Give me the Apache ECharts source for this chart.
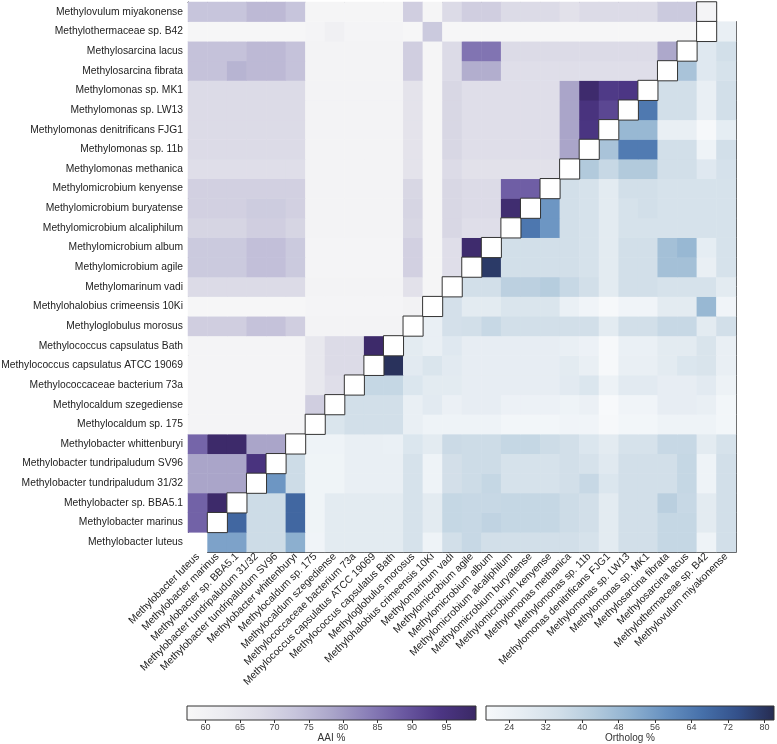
<!DOCTYPE html>
<html><head><meta charset="utf-8">
<script src="https://cdn.jsdelivr.net/npm/echarts@6/dist/echarts.min.js"></script>
<style>html,body{margin:0;padding:0;background:#fff}#c{width:777px;height:744px}</style>
</head><body><div id="c"></div>
<script>
// species in column order (left → right); y axis uses the same order bottom → top
const species = [
  'Methylobacter luteus','Methylobacter marinus','Methylobacter sp. BBA5.1',
  'Methylobacter tundripaludum 31/32','Methylobacter tundripaludum SV96','Methylobacter whittenburyi',
  'Methylocaldum sp. 175','Methylocaldum szegediense','Methylococcaceae bacterium 73a',
  'Methylococcus capsulatus ATCC 19069','Methylococcus capsulatus Bath','Methyloglobulus morosus',
  'Methylohalobius crimeensis 10Ki','Methylomarinum vadi','Methylomicrobium agile',
  'Methylomicrobium album','Methylomicrobium alcaliphilum','Methylomicrobium buryatense',
  'Methylomicrobium kenyense','Methylomonas methanica','Methylomonas sp. 11b',
  'Methylomonas denitrificans FJG1','Methylomonas sp. LW13','Methylomonas sp. MK1',
  'Methylosarcina fibrata','Methylosarcina lacus','Methylothermaceae sp. B42','Methylovulum miyakonense'
];

// AAI %: aaiRows[k] = values of species k+1 against species 0..k
const aaiRows = [
  [87.5],
  [87.5, 98.5],
  [78.5, 78.5, 78.5],
  [78.5, 78.5, 78.5, 95],
  [87, 98.5, 98.5, 78.5, 78.5],
  [59, 59, 59, 59, 59, 59],
  [59, 59, 59, 59, 59, 59, 71],
  [59, 59, 59, 59, 59, 59, 64, 67],
  [59, 59, 59, 59, 59, 59, 64, 68, 68],
  [59, 59, 59, 59, 59, 59, 64, 68, 68, 98.5],
  [71, 71, 71, 73.5, 73.5, 71, 59.5, 59.5, 59.5, 59.5, 59.5],
  [58, 58, 58, 58, 58, 58, 59, 59, 59, 59, 59, 60],
  [68, 68, 68, 68, 68, 68, 59.5, 59.5, 59.5, 59.5, 59.5, 66, 58.5],
  [72, 72, 72, 74, 74, 72, 59, 59, 59, 59, 59, 70.5, 58.5, 67],
  [72, 72, 72, 74, 74, 72, 59, 59, 59, 59, 59, 70.5, 58.5, 67, 98],
  [69.5, 69.5, 69.5, 71, 71, 69.5, 59.5, 59.5, 59.5, 59.5, 59.5, 69, 58.5, 69, 67, 67],
  [70.5, 70.5, 70.5, 71.5, 71.5, 70.5, 59.5, 59.5, 59.5, 59.5, 59.5, 69.5, 58.5, 69, 68, 68, 97.5],
  [70.5, 70.5, 70.5, 70.5, 70.5, 70.5, 59.5, 59.5, 59.5, 59.5, 59.5, 69, 58.5, 69, 68, 68, 88, 88],
  [67, 67, 67, 67, 67, 67, 59.5, 59.5, 59.5, 59.5, 59.5, 65.5, 58.5, 68, 66, 66, 66, 66, 66],
  [68, 68, 68, 68, 68, 68, 59.5, 59.5, 59.5, 59.5, 59.5, 65.5, 58.5, 69, 67, 67, 67, 67, 67, 78.5],
  [68, 68, 68, 68, 68, 68, 59.5, 59.5, 59.5, 59.5, 59.5, 65.5, 58.5, 69, 67, 67, 67, 67, 67, 78.5, 94.5],
  [68, 68, 68, 68, 68, 68, 59.5, 59.5, 59.5, 59.5, 59.5, 65.5, 58.5, 69, 67, 67, 67, 67, 67, 78.5, 95, 91.5],
  [68, 68, 68, 68, 68, 68, 59.5, 59.5, 59.5, 59.5, 59.5, 65.5, 58.5, 69, 67, 67, 67, 67, 67, 78.5, 98, 93.5, 94],
  [73.5, 73.5, 76, 75, 75, 73.5, 59.5, 59.5, 59.5, 59.5, 59.5, 71, 58.5, 68, 77, 77, 67, 67, 67, 67, 67, 67, 67, 67],
  [73.5, 73.5, 73.5, 75, 75, 73.5, 59.5, 59.5, 59.5, 59.5, 59.5, 71, 58.5, 68, 85, 85, 68, 68, 68, 68, 68, 68, 68, 68, 78],
  [58, 58, 58, 58, 58, 58, 59, 61, 59, 59, 59, 58, 72, 58, 58, 58, 58, 58, 58, 58, 58, 58, 58, 58, 58, 58],
  [73, 73, 73, 75, 75, 73, 58.5, 58.5, 58.5, 58.5, 58.5, 71, 58.5, 68, 71, 71, 68, 68, 68, 66, 68, 68, 68, 68, 72, 72, 59]
];

// Ortholog %: orthologRows[s] = values of species s against species s+1..27
const orthologRows = [
  [54, 54, 36, 36, 51, 22, 28, 28, 28, 28, 33, 23, 34.7, 37.5, 34.7, 34.7, 34.7, 34.7, 34.7, 33, 28, 34.7, 34.7, 38, 38, 23, 34.7],
  [68.5, 36, 36, 68.5, 22.5, 28, 28, 28, 28, 33, 28, 38, 37.5, 39.5, 38, 38, 38, 36, 34.7, 28, 34.7, 34.7, 38, 38, 28, 34.7],
  [36, 36, 68.5, 22.5, 28, 28, 28, 28, 33, 28, 38, 37.5, 37.5, 38, 38, 38, 36, 34.7, 28, 34.7, 34.7, 41, 37.5, 28, 34.7],
  [57, 36, 22.5, 22.5, 25.5, 25.5, 25.5, 33, 23, 34.5, 36, 38, 33, 33, 33, 34.7, 37.5, 31, 34.7, 34.7, 34.7, 38, 23, 34.7],
  [36, 22.5, 22.5, 25.5, 25.5, 25.5, 33, 23, 34.5, 36, 36, 33, 33, 33, 34.7, 33, 29, 34.7, 34.7, 34.7, 38, 23, 34.7],
  [23, 23, 25.5, 25.5, 25, 31, 28, 36.5, 36, 36, 38, 38, 36, 34.7, 31, 28, 33, 33, 37.5, 37.5, 28, 33],
  [31.5, 34.7, 34.7, 34.7, 25.5, 23, 23, 23, 23, 21, 21, 21, 22, 22, 19.5, 21, 21, 23, 23, 23, 21],
  [34.7, 34.7, 34.7, 25.5, 28.5, 24.5, 26.5, 26.5, 24, 24, 24, 23, 24.5, 19, 22, 22, 26.5, 26.5, 25.5, 21],
  [38, 38, 31, 28, 28, 26.5, 26.5, 26.5, 26.5, 26.5, 28.5, 31, 23.5, 28.5, 28.5, 26.5, 26.5, 28.5, 23.5],
  [80.5, 28.5, 31.5, 28.5, 26.5, 26.5, 26.5, 26.5, 26.5, 28, 25.5, 19.5, 25.5, 25.5, 28, 31, 32, 25.5],
  [28, 25.5, 29.5, 26.5, 26.5, 26.5, 26.5, 26.5, 25.5, 24, 19.5, 25, 25, 28, 28, 32, 25.5],
  [25.5, 34, 34.7, 37.5, 34.7, 34.7, 34.7, 34.7, 34.7, 28, 34.7, 34.7, 37.5, 37.5, 28, 34.7],
  [34, 28, 28, 31.5, 31.5, 31.5, 25, 22, 19.5, 22, 22, 28, 28, 48.5, 22],
  [34.7, 34.7, 40.5, 40.5, 42, 37.5, 34.7, 28, 34.7, 34.7, 33, 33, 33, 28],
  [79, 34.7, 34.7, 34.7, 34.7, 33, 28, 34.7, 34.7, 46, 46, 25.5, 33],
  [34.7, 34.7, 34.7, 34.7, 33, 28, 34.7, 34.7, 46, 48.5, 27, 33],
  [64.5, 57, 34.7, 33, 28, 33, 33, 33, 33, 33, 33],
  [57, 34.7, 33, 28, 33, 34.7, 33, 33, 33, 33],
  [34.7, 33, 28, 34.7, 34.7, 33, 33, 33, 33],
  [43, 37.5, 43, 43, 34.7, 34.7, 29.5, 33.5],
  [45, 63.5, 63.5, 34.7, 34.7, 23, 34.7],
  [48.5, 48.5, 25.5, 25.5, 19.5, 27],
  [64, 34.7, 34.7, 25.5, 34.7],
  [34.7, 34.7, 25.5, 34.7],
  [45, 29.5, 33],
  [29.5, 34.7],
  [25.5]
];

const aaiRange = [57.3, 99.3];
const orthologRange = [18.9, 82.1];
const aaiTicks = [60, 65, 70, 75, 80, 85, 90, 95];
const orthologTicks = [24, 32, 40, 48, 56, 64, 72, 80];
const aaiColors = ['#f8f8f8','#ececf1','#dddce7','#c7c5dc','#aba6ca','#8a7fb8','#6a58a1','#4c3684','#3a2865'];
const orthologColors = ['#f7f9fb','#e6edf3','#d2dfe9','#b4cbdd','#8fb1d0','#6690c0','#4670aa','#33508a','#262b50'];

const N = species.length;
const aaiData = [], orthologData = [], diagData = [];
aaiRows.forEach((row, k) => {
  const i = k + 1;
  row.forEach((v, j) => {
    const item = { value: [j, i, v] };
    if (i === N - 1 && j === N - 2) item.itemStyle = { borderColor: '#333', borderWidth: 1 };
    aaiData.push(item);
  });
});
orthologRows.forEach((row, s) => {
  row.forEach((v, k) => orthologData.push([s + 1 + k, s, v]));
});
for (let s = 1; s < N - 1; s++) diagData.push([s, s, 0]);

const FONT = 'Liberation Sans';
const LABEL_SIZE = 10.3;
const G = { left: 188, top: 2, width: 548, height: 550, outerBoundsMode: 'none' };
const cw = G.width / N, ch = G.height / N;
function grad(colors) {
  return { type: 'linear', x: 0, y: 0, x2: 1, y2: 0,
    colorStops: colors.map((c, k) => ({ offset: k / (colors.length - 1), color: c })) };
}
const hidden = { axisLine: { show: false }, axisTick: { show: false }, axisLabel: { show: false }, splitLine: { show: false } };
function frameAxis(gi, pos) {
  return { type: 'value', gridIndex: gi, position: pos, min: 0, max: 1,
    axisLine: { show: true, onZero: false, lineStyle: { color: '#444', width: 1 } },
    axisTick: { show: false }, axisLabel: { show: false }, splitLine: { show: false } };
}
function barAxis(gi, range, ticks, name) {
  return { type: 'value', gridIndex: gi, min: range[0], max: range[1],
    axisLine: { show: false }, splitLine: { show: false },
    axisTick: { show: true, customValues: ticks, length: 3, lineStyle: { color: '#333' } },
    axisLabel: { customValues: ticks, fontSize: 9, color: '#444', margin: 3, fontFamily: FONT },
    name: name, nameLocation: 'middle', nameGap: 13,
    nameTextStyle: { fontSize: 10, color: '#333', fontFamily: FONT } };
}

const chart = echarts.init(document.getElementById('c'), null, { renderer: 'canvas' });
chart.setOption({
  animation: false,
  backgroundColor: '#fff',
  grid: [
    G,
    { left: G.left, top: G.top, width: G.width - cw, height: G.height - ch, outerBoundsMode: 'none' },
    { left: G.left + cw, top: G.top + ch, width: G.width - cw, height: G.height - ch, outerBoundsMode: 'none' },
    { left: 187, top: 706, width: 289, height: 14, show: true, backgroundColor: grad(aaiColors), borderColor: '#333', borderWidth: 1, outerBoundsMode: 'none' },
    { left: 486, top: 706, width: 288, height: 14, show: true, backgroundColor: grad(orthologColors), borderColor: '#333', borderWidth: 1, outerBoundsMode: 'none' }
  ],
  xAxis: [
    { type: 'category', gridIndex: 0, data: species, position: 'bottom',
      axisLine: { show: false }, axisTick: { show: false }, splitLine: { show: false },
      axisLabel: { interval: 0, rotate: 45, fontSize: LABEL_SIZE, color: '#222', margin: 3, fontFamily: FONT } },
    frameAxis(1, 'top'),
    frameAxis(2, 'bottom'),
    barAxis(3, aaiRange, aaiTicks, 'AAI %'),
    barAxis(4, orthologRange, orthologTicks, 'Ortholog %')
  ],
  yAxis: [
    { type: 'category', gridIndex: 0, data: species,
      axisLine: { show: false }, axisTick: { show: false }, splitLine: { show: false },
      axisLabel: { interval: 0, fontSize: LABEL_SIZE, color: '#222', margin: 5, fontFamily: FONT } },
    frameAxis(1, 'left'),
    frameAxis(2, 'right'),
    Object.assign({ type: 'value', gridIndex: 3, min: 0, max: 1 }, hidden),
    Object.assign({ type: 'value', gridIndex: 4, min: 0, max: 1 }, hidden)
  ],
  visualMap: [
    { type: 'continuous', show: false, seriesIndex: 0, dimension: 2, min: aaiRange[0], max: aaiRange[1], inRange: { color: aaiColors } },
    { type: 'continuous', show: false, seriesIndex: 1, dimension: 2, min: orthologRange[0], max: orthologRange[1], inRange: { color: orthologColors } }
  ],
  series: [
    { type: 'heatmap', name: 'AAI %', xAxisIndex: 0, yAxisIndex: 0, data: aaiData, z: 3, emphasis: { disabled: true } },
    { type: 'heatmap', name: 'Ortholog %', xAxisIndex: 0, yAxisIndex: 0, data: orthologData, z: 2, emphasis: { disabled: true } },
    { type: 'heatmap', name: 'self', xAxisIndex: 0, yAxisIndex: 0, data: diagData, z: 4,
      itemStyle: { color: '#ffffff', borderColor: '#333', borderWidth: 1 }, emphasis: { disabled: true } }
  ]
});
</script>
</body></html>
